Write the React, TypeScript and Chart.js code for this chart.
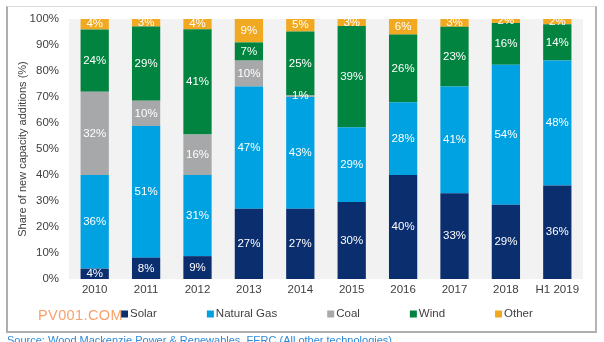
import React, { useEffect, useRef } from "react";
import { Chart, registerables } from "chart.js";

Chart.register(...registerables);

const categories = ["2010", "2011", "2012", "2013", "2014", "2015", "2016", "2017", "2018", "H1 2019"];
const solar = [4, 8.2, 8.8, 27, 27, 29.6, 40, 33, 28.6, 36];
const naturalGas = [36, 50.6, 31.2, 47, 43, 28.8, 28, 41, 53.8, 48];
const coal = [32, 9.8, 15.6, 10, 0.6, 0, 0, 0, 0, 0];
const wind = [24, 28.5, 40.5, 7, 24.6, 38.9, 26, 23, 16.1, 14];
const other = [4, 2.9, 3.9, 9, 4.8, 2.7, 6, 3, 1.5, 2];
const yTicks = [0, 10, 20, 30, 40, 50, 60, 70, 80, 90, 100];

const FONT = "'Liberation Sans', Arial, sans-serif";
const TEXT = "#404040";

const bgPlugin = {
  id: "plotBg",
  beforeDraw(chart: any) {
    const { ctx, chartArea: a } = chart;
    ctx.save();
    ctx.fillStyle = "#f2f2f2";
    ctx.fillRect(a.left, a.top, a.right - a.left, a.bottom - a.top);
    ctx.restore();
  },
};

const labelPlugin = {
  id: "segLabels",
  afterDatasetsDraw(chart: any) {
    const { ctx, chartArea: a } = chart;
    ctx.save();
    ctx.beginPath();
    ctx.rect(a.left, a.top, a.right - a.left, a.bottom - a.top);
    ctx.clip();
    ctx.fillStyle = "#ffffff";
    ctx.font = `11.5px ${FONT}`;
    ctx.textAlign = "center";
    ctx.textBaseline = "middle";
    chart.data.datasets.forEach((ds: any, di: number) => {
      const meta = chart.getDatasetMeta(di);
      meta.data.forEach((el: any, i: number) => {
        const v = ds.data[i];
        if (!v || v < 0.5) return;
        const cy = (el.y + el.base) / 2;
        ctx.fillText(Math.round(v) + "%", el.x, cy);
      });
    });
    ctx.restore();
  },
};

const legendPlugin = {
  id: "customLegend",
  afterDraw(chart: any) {
    const { ctx, chartArea: a } = chart;
    ctx.save();
    ctx.font = `11.5px ${FONT}`;
    ctx.textBaseline = "middle";
    ctx.textAlign = "left";
    let x = a.left + 52;
    const y = 314;
    chart.data.datasets.forEach((ds: any) => {
      ctx.fillStyle = ds.backgroundColor;
      ctx.fillRect(x, y - 3.5, 7, 7);
      ctx.fillStyle = TEXT;
      ctx.fillText(ds.label, x + 9, y);
      x += 9 + ctx.measureText(ds.label).width + 50;
    });
    ctx.restore();
  },
};

export default function App() {
  const ref = useRef<HTMLCanvasElement>(null);
  useEffect(() => {
    if (!ref.current) return;
    const chart = new Chart(ref.current, {
      type: "bar",
      data: {
        labels: categories,
        datasets: [
          { label: "Solar", data: solar, backgroundColor: "#0b2e6f" },
          { label: "Natural Gas", data: naturalGas, backgroundColor: "#00a2e1" },
          { label: "Coal", data: coal, backgroundColor: "#a7a8aa" },
          { label: "Wind", data: wind, backgroundColor: "#00843f" },
          { label: "Other", data: other, backgroundColor: "#f0a920" },
        ],
      },
      options: {
        animation: false,
        responsive: false,
        maintainAspectRatio: false,
        layout: { padding: { left: 12, top: 19, right: 21, bottom: 0 } },
        datasets: { bar: { categoryPercentage: 1, barPercentage: 0.55, borderWidth: 0 } },
        plugins: { legend: { display: false }, tooltip: { enabled: false } },
        scales: {
          x: {
            stacked: true,
            grid: { display: false, drawTicks: false },
            border: { display: false },
            ticks: { color: TEXT, font: { family: FONT, size: 11.5 }, padding: 4 },
            afterFit(s: any) {
              s.height = 63;
            },
          },
          y: {
            stacked: true,
            min: 0,
            max: 100,
            afterBuildTicks(s: any) {
              s.ticks = yTicks.map((v) => ({ value: v }));
            },
            grid: { display: false, drawTicks: false },
            border: { display: false },
            ticks: {
              color: TEXT,
              font: { family: FONT, size: 11.5 },
              padding: 10,
              callback: (v: any) => v + "%",
            },
            title: {
              display: true,
              text: "Share of new capacity additions (%)",
              color: TEXT,
              font: { family: FONT, size: 11 },
              padding: { top: 4, bottom: 4 },
            },
            afterFit(s: any) {
              s.width = 57;
            },
          },
        },
      },
      plugins: [bgPlugin, labelPlugin, legendPlugin],
    });
    return () => chart.destroy();
  }, []);

  return (
    <div style={{ position: "absolute", left: 0, top: 0, width: 604, height: 342, overflow: "hidden", background: "#fff" }}>
      <div
        style={{
          position: "absolute",
          left: 6,
          top: 6,
          width: 587,
          height: 324,
          borderTop: "1px solid #dcdcdc",
          borderLeft: "2px solid #aeaeae",
          borderRight: "2px solid #b4b4b4",
          borderBottom: "2px solid #aeaeae",
        }}
      />
      <canvas ref={ref} width={604} height={342} style={{ position: "absolute", left: 0, top: 0, width: 604, height: 342 }} />
      <div
        style={{
          position: "absolute",
          left: 38,
          top: 305,
          fontFamily: FONT,
          fontSize: 14.5,
          letterSpacing: 0.4,
          color: "rgba(245,130,60,0.75)",
          whiteSpace: "nowrap",
          lineHeight: "20px",
        }}
      >
        PV001.COM
      </div>
      <div
        style={{
          position: "absolute",
          left: 7,
          top: 334,
          fontFamily: FONT,
          fontSize: 11,
          color: "#2f8ad6",
          whiteSpace: "nowrap",
          lineHeight: "13px",
        }}
      >
        Source: Wood Mackenzie Power &amp; Renewables, FERC (All other technologies)
      </div>
    </div>
  );
}
